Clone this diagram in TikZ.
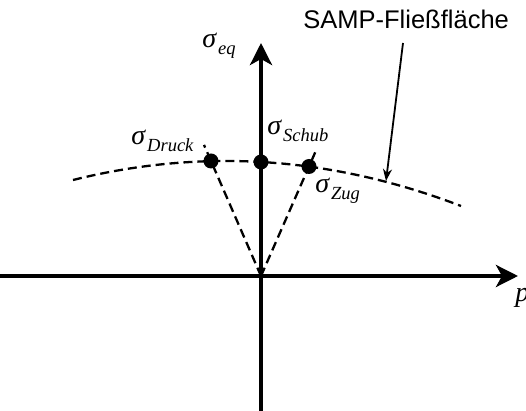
\documentclass[tikz,border=0pt]{standalone}
\usepackage{fontspec}
\setmainfont{Liberation Serif}
\newfontfamily\arialfont{Liberation Sans}
\usetikzlibrary{arrows.meta,calc}

% sigma con pedice in corsivo
\newcommand{\sigl}[1]{{\fontsize{28}{28}\selectfont\itshape σ}\hspace{2pt}%
	\raisebox{-7pt}{\fontsize{18.5}{18.5}\selectfont\itshape #1}}

\begin{document}
\begin{tikzpicture}[x=1pt, y=1pt, >=stealth, line width=0.8pt,
	asse/.style={line width=4pt, -{Stealth[length=22pt, width=22pt, inset=6pt]}},
	tratt/.style={line width=2.3pt, dash pattern=on 9pt off 5pt},
	punto/.style={circle, fill=black, inner sep=0pt, minimum size=15pt},
	etich/.style={inner sep=0pt, anchor=base west},
	freccia/.style={line width=1.8pt, -{Stealth[length=12pt, width=9pt]}},
	]
	
	\def\ext{1.14}  % prolungamento raggi oltre i punti
	
	\useasboundingbox (-261,-135) rectangle (265,276);
	
	%% ── Assi ─────────────────────────────────────────────────────────────────
	\coordinate (O) at (0,0);
	\coordinate (xs) at (-261,0);
	\coordinate (xd) at (257,0);
	\coordinate (yb) at (0,-135);
	\coordinate (ya) at (0,233);
	\draw[asse] (xs) -- (xd);
	\draw[asse] (yb) -- (ya);
	
	%% ── Superficie di snervamento ────────────────────────────────────────────
	\coordinate (cS) at (-188,96);
	\coordinate (cD) at (200,70);
	\draw[tratt] (cS) .. controls (-58.7,128.2) and (70.7,119.5) .. (cD);
	
	%% ── Punti e raggi ────────────────────────────────────────────────────────
	\coordinate (pD) at (-50,115);
	\coordinate (pS) at (0,114);
	\coordinate (pZ) at (48,109.5);
	\draw[tratt] (O) -- ($(O)!\ext!(pD)$);
	\draw[tratt] (O) -- ($(O)!\ext!(pZ)$);
	\node[punto] (sD) at (pD) {};
	\node[punto] (sS) at (pS) {};
	\node[punto] (sZ) at (pZ) {};
	
	%% ── Etichette ────────────────────────────────────────────────────────────
	\node[etich] (lEq) at (-59,228) {\sigl{eq}};
	\node[etich] (lD) at (-130,131) {\sigl{Druck}};
	\node[etich] (lS) at (6,141) {\sigl{Schub}};
	\node[etich] (lZ) at (54,83) {\sigl{Zug}};
	\node[etich] (lp) at (254,-26) {\fontsize{28}{28}\selectfont\itshape p};
	
	%% ── Richiamo ─────────────────────────────────────────────────────────────
	\node[etich] (tit) at (42,247) {\arialfont\fontsize{25.5}{25.5}\selectfont SAMP-Fließfläche};
	\coordinate (rA) at (142,233);
	\coordinate (rB) at (125,95);
	\draw[freccia] (rA) -- (rB);
	
\end{tikzpicture}
\end{document}
